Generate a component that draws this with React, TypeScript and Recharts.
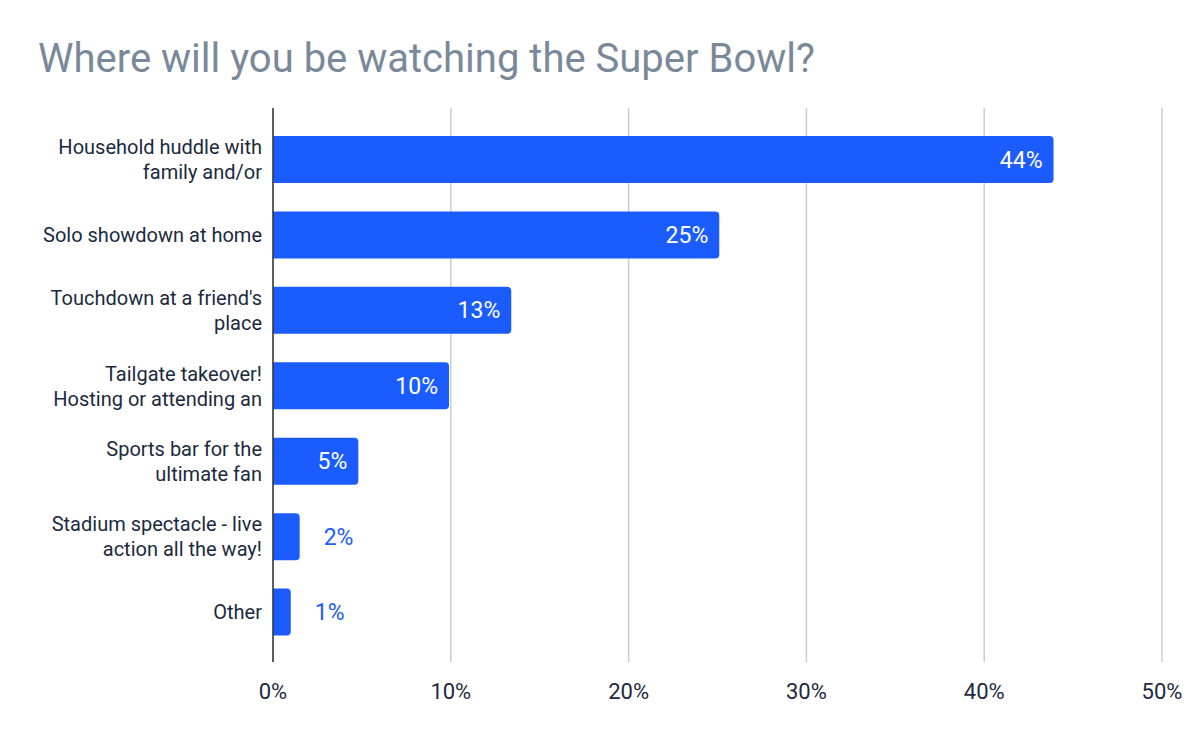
import { Bar, BarChart, CartesianGrid, LabelList, XAxis, YAxis } from "recharts"

// answers, top to bottom
const categories = [
  "Household huddle with\nfamily and/or",
  "Solo showdown at home",
  "Touchdown at a friend's\nplace",
  "Tailgate takeover!\nHosting or attending an",
  "Sports bar for the\nultimate fan",
  "Stadium spectacle - live\naction all the way!",
  "Other",
]
const shares = [43.9, 25.1, 13.4, 9.9, 4.8, 1.5, 1.0]
const xTicks = [0, 10, 20, 30, 40, 50]

const data = categories.map((name, i) => ({ name, share: shares[i] }))

const BLUE = "#1a5cff"
const INK = "#1b2a40"
const FONT = "Roboto, sans-serif"

function CategoryTick(props: any) {
  const { x, y, payload } = props
  const lines = String(payload.value).split("\n")
  const lh = 25
  const top = y - ((lines.length - 1) * lh) / 2
  return (
    <text x={x - 3} y={top} textAnchor="end" fill={INK} fontSize={20} fontFamily={FONT}>
      {lines.map((l: string, i: number) => (
        <tspan key={i} x={x - 3} y={top + i * lh} dy="0.35em">
          {l}
        </tspan>
      ))}
    </text>
  )
}

function ValueLabel(props: any) {
  const { x, y, width, height, value } = props
  const txt = `${Math.round(value)}%`
  const cy = y + height / 2
  if (value >= 4) {
    return (
      <text x={x + width - 11} y={cy} dy="0.35em" textAnchor="end" fill="#fff" fontSize={23} fontFamily={FONT}>
        {txt}
      </text>
    )
  }
  return (
    <text x={x + width + 24} y={cy} dy="0.35em" textAnchor="start" fill={BLUE} fontSize={23} fontFamily={FONT}>
      {txt}
    </text>
  )
}

export default function App() {
  return (
    <div style={{ position: "absolute", left: 0, top: 0, width: 1200, height: 742, background: "#fff", fontFamily: FONT }}>
      <div style={{ position: "absolute", left: 38, top: 35, fontSize: 40, color: "#7a8999", whiteSpace: "nowrap", lineHeight: "48px" }}>
        Where will you be watching the Super Bowl?
      </div>
      <BarChart
        width={1200}
        height={742}
        data={data}
        layout="vertical"
        margin={{ top: 108, right: 38, left: 0, bottom: 40 }}
        barSize={47}
      >
        <CartesianGrid horizontal={false} stroke="#cccccc" strokeWidth={1.5} />
        <XAxis
          type="number"
          domain={[0, 50]}
          ticks={xTicks}
          tickFormatter={(v) => `${v}%`}
          axisLine={false}
          tickLine={false}
          tickMargin={15}
          height={40}
          tick={{ fill: INK, fontSize: 22, fontFamily: FONT }}
        />
        <YAxis
          type="category"
          dataKey="name"
          width={273}
          padding={{ top: 14, bottom: 12 }}
          axisLine={{ stroke: "#333", strokeWidth: 1.5 }}
          tickLine={false}
          tick={<CategoryTick />}
          interval={0}
        />
        <Bar dataKey="share" fill={BLUE} radius={[0, 4, 4, 0]} isAnimationActive={false}>
          <LabelList dataKey="share" content={<ValueLabel />} />
        </Bar>
      </BarChart>
    </div>
  )
}
